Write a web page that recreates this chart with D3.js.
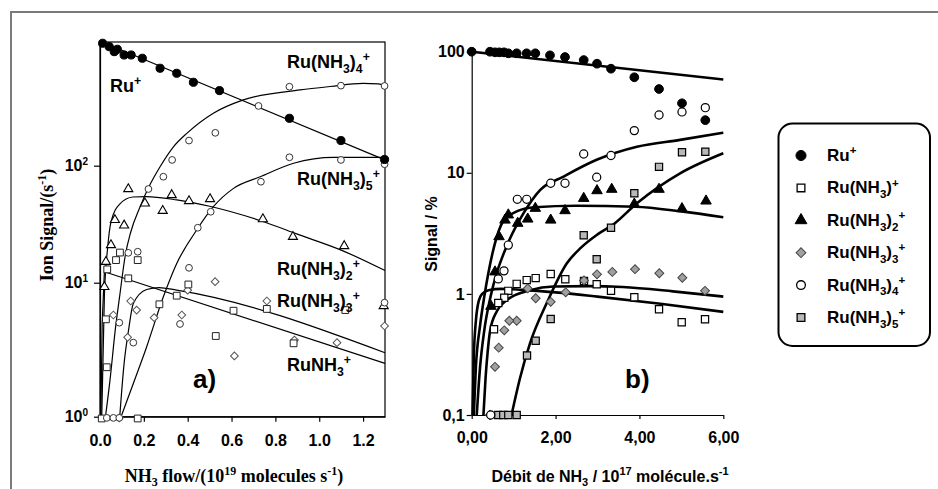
<!DOCTYPE html>
<html>
<head>
<meta charset="utf-8">
<script src="https://cdn.jsdelivr.net/npm/d3@7"></script>
<style>
  body { margin: 0; background: #fff; }
  svg { display: block; }
  .tk text { font-family: "Liberation Sans", Arial, sans-serif; font-weight: bold; font-size: 16px; fill: #000; }
  .tk path, .tk line { stroke: #000; stroke-width: 1.2; }
</style>
</head>
<body>
<div id="chart"></div>
<script>
// ---------- panel a) : ion signal (s-1) vs NH3 flow (1e19 molecules/s) ----------
const aRu  = [[0.012,1112],[0.042,1040],[0.065,943],[0.079,988],[0.11,883],[0.142,883],[0.193,828],[0.274,680],[0.35,616],[0.426,516],[0.545,438],[0.864,254],[1.099,164],[1.298,113]];
const aRu1 = [[0.031,2.34],[0.027,5.33],[0.033,13.0],[0.073,15.6],[0.091,18.1],[0.172,15.6],[0.129,10.9],[0.403,9.7],[0.35,8.0],[0.271,6.9],[0.609,6.18],[0.528,4.0],[0.761,6.37],[0.883,3.53],[1.119,6.25],[0.172,0.97],[0.008,0.97]];
const aRu2 = [[0.129,63.2],[0.205,47.7],[0.327,56.2],[0.286,41.2],[0.406,49.9],[0.502,51.9],[0.068,34.4],[0.11,30.9],[0.743,35],[0.88,24.7],[1.114,20.6],[0.05,21],[0.027,15.1],[0.02,9.3],[1.294,6.7]];
const aRu3 = [[0.525,10.2],[0.4,8.8],[0.14,7.3],[0.167,6.25],[0.061,5.74],[0.247,5.48],[0.373,5.74],[0.126,3.91],[0.613,2.84],[0.761,7.3],[0.887,3.73],[1.081,3.57],[1.298,4.75],[0.088,0.98]];
const aRu4 = [[1.298,480],[1.099,483],[0.864,473],[0.723,324],[0.526,191],[0.406,164],[0.329,112],[0.289,80.5],[0.221,63.2],[0.172,18.4],[0.129,18.0],[0.031,0.98],[0.061,0.98],[0.088,0.98]];
const aRu5 = [[1.298,103],[1.099,112],[0.864,118],[0.734,73],[0.505,40.4],[0.446,29.5],[0.406,13.4],[0.365,4.92],[0.152,3.57],[0.088,5.03],[1.298,7.1]];

// fitted curves
const aFitRu  = [[0.01,1140],[1.31,110]];
const aFitRu1 = [[0.004,1],[0.01,5],[0.02,12.4],[1.3,2.5]];
const aFitRu2 = [[0.008,1],[0.02,8],[0.035,20],[0.05,33],[0.09,47],[0.15,54],[0.21,54.5],[0.35,51],[0.5,45],[0.75,33],[0.9,26],[1.1,19],[1.3,12.7]];
const aFitRu3 = [[0.09,1],[0.11,2.5],[0.13,4.4],[0.152,7.0],[0.213,8.9],[0.27,9.2],[0.35,8.8],[1.3,3.0]];
const aFitRu4 = [[0.025,1],[0.046,1.9],[0.07,4.5],[0.09,8],[0.115,17],[0.14,27],[0.183,44.6],[0.23,70],[0.274,98],[0.335,145],[0.396,189],[0.517,281],[0.654,365],[0.913,444],[1.05,475],[1.2,505],[1.27,500],[1.3,480]];
const aFitRu5 = [[0.099,1.03],[0.152,1.77],[0.213,3.33],[0.289,7.85],[0.35,14.6],[0.441,28.2],[0.517,44.6],[0.609,64],[0.731,80.5],[0.883,105],[1.065,118],[1.3,118]];

const aXTicks = [0, 0.2, 0.4, 0.6, 0.8, 1.0, 1.2];
const aYTicks = [1, 10, 100];

// ---------- panel b) : signal (%) vs NH3 flow (1e17 molecule/s) ----------
const bRu  = [[0,100],[0.436,100],[0.556,98.8],[0.658,98.8],[0.77,98.8],[0.873,97],[1.073,97],[1.31,97],[1.517,97],[1.867,93.3],[2.225,90.4],[2.671,85.3],[2.988,79.6],[3.322,72.4],[3.878,61.5],[4.467,49.2],[5.015,37.5],[5.571,27.2]];
const bRu1 = [[5.564,0.617],[5.008,0.583],[4.467,0.746],[3.878,0.937],[3.322,1.06],[2.981,1.2],[2.678,1.28],[2.232,1.32],[1.884,1.46],[1.526,1.35],[1.312,1.3],[1.073,1.21],[0.873,1.06],[0.777,0.93],[0.634,0.84],[0.532,0.51]];
const bRu2 = [[5.588,5.85],[5.015,5.06],[4.467,7.31],[3.878,5.52],[3.339,7.31],[2.988,7.12],[2.671,6.15],[2.225,4.87],[1.884,4.07],[1.517,5.09],[1.336,4.15],[1.097,3.83],[0.873,4.49],[0.794,4.07],[0.651,2.97],[0.556,1.52],[0.46,0.79]];
const bRu3 = [[5.564,1.06],[5.023,1.36],[4.474,1.48],[3.895,1.6],[3.353,1.52],[2.988,1.45],[2.678,1.29],[2.242,1.03],[1.884,0.86],[1.526,0.92],[1.336,1.11],[1.073,0.6],[0.897,0.6],[0.777,0.5],[0.644,0.36],[0.556,0.25],[0.436,0.1]];
const bRu4 = [[5.571,34.5],[5.015,31.8],[4.467,30.0],[3.878,22.3],[3.322,13.9],[2.671,14.3],[2.981,9.2],[2.225,8.2],[1.884,8.2],[1.312,6.04],[1.088,6.04],[0.873,2.53],[0.77,1.55],[0.634,1.33],[0.453,0.1]];
const bRu5 = [[5.571,14.9],[5.015,14.8],[4.467,11.2],[3.878,6.77],[3.322,3.52],[2.671,3.05],[2.981,1.93],[1.884,0.62],[1.526,0.41],[1.319,0.31],[0.634,0.1],[0.753,0.1],[0.873,0.1],[1.073,0.1]];

const bFitRu  = [[0,100],[6,59]];
const bFitRu1 = [[0.02,0.1],[0.05,0.3],[0.1,0.6],[0.17,0.88],[0.25,1.0],[0.4,1.07],[0.7,1.1],[1.2,1.08],[2,1.03],[3,0.95],[4.5,0.83],[6,0.71]];
const bFitRu2 = [[0.05,0.1],[0.1,0.25],[0.2,0.55],[0.3,0.95],[0.4,1.5],[0.5,2.2],[0.6,2.97],[0.7,3.7],[0.85,4.3],[1.1,4.85],[1.5,5.2],[2.5,5.35],[3.9,5.25],[5,4.8],[6,4.3]];
const bFitRu3 = [[0.28,0.1],[0.33,0.2],[0.38,0.33],[0.44,0.5],[0.6,0.72],[0.84,0.89],[1.39,1.07],[1.95,1.15],[2.8,1.16],[3.6,1.14],[4.8,1.05],[6,0.95]];
const bFitRu4 = [[0.12,0.1],[0.2,0.25],[0.3,0.5],[0.45,0.95],[0.6,1.5],[0.75,2.1],[0.9,2.8],[1.23,4.6],[1.63,7.2],[2.19,9.3],[2.98,12.8],[3.94,16.4],[4.97,18.7],[6,21.4]];
const bFitRu5 = [[0.95,0.1],[1.15,0.2],[1.39,0.39],[1.79,0.84],[2.27,1.79],[2.6,2.4],[3.0,3.1],[3.4,3.8],[3.94,5.6],[4.97,9.9],[6,14.5]];

const bXTicks = [0, 2, 4, 6];
const bYTicks = [0.1, 1, 10, 100];

// ion names as text parts: plain string, ["x","sub"] or ["x","sup"]
const ionNames = [
  ["Ru", ["+","sup"]],
  ["Ru(NH", ["3","sub"], ")", ["+","sup"]],
  ["Ru(NH", ["3","sub"], ")", ["2","sub"], ["+","sup"]],
  ["Ru(NH", ["3","sub"], ")", ["3","sub"], ["+","sup"]],
  ["Ru(NH", ["3","sub"], ")", ["4","sub"], ["+","sup"]],
  ["Ru(NH", ["3","sub"], ")", ["5","sub"], ["+","sup"]]
];
const ruNH3Name = ["RuNH", ["3","sub"], ["+","sup"]];

// ---------- drawing ----------
const W = 938, H = 489;
const SANS = '"Liberation Sans", Arial, sans-serif';
const SERIF = '"Liberation Serif", "Times New Roman", serif';

const svg = d3.select("#chart").append("svg")
    .attr("width", W)
    .attr("height", H);

// outer grey frame (open at the bottom)
svg.append("path")
    .attr("d", `M11,${H + 5}V12H${W + 5}`)
    .attr("fill", "none")
    .attr("stroke", "#7a7a7a")
    .attr("stroke-width", 2);

// rich text helper for sub/superscripts
function richText(sel, parts, size) {
  const t = sel.append("text")
      .attr("font-family", SANS)
      .attr("font-weight", "bold")
      .attr("font-size", size + "px");
  let shift = 0;
  parts.forEach(p => {
    const txt = typeof p === "string" ? p : p[0];
    const kind = typeof p === "string" ? "" : p[1];
    const target = kind === "sub" ? 0.28 * size : kind === "sup" ? -0.4 * size : 0;
    const ts = t.append("tspan").attr("dy", target - shift).text(txt);
    if (kind) ts.attr("font-size", (size * 0.68) + "px");
    shift = target;
  });
  return t;
}

function marks(g, data, xs, ys, opt) {
  g.append("g").selectAll("path")
    .data(data)
    .join("path")
      .attr("d", d3.symbol().type(opt.type).size(opt.size))
      .attr("transform", d => `translate(${xs(d[0])},${ys(d[1])})${opt.rot ? " rotate(45)" : ""}`)
      .attr("fill", opt.fill)
      .attr("stroke", opt.stroke)
      .attr("stroke-width", opt.sw);
}

function curve(g, data, xs, ys, width, kind) {
  g.append("path")
    .datum(data)
    .attr("fill", "none")
    .attr("stroke", "#000")
    .attr("stroke-width", width)
    .attr("stroke-linejoin", "round")
    .attr("d", d3.line().x(d => xs(d[0])).y(d => ys(d[1])).curve(kind || d3.curveMonotoneX));
}

// ===== panel a =====
const ax = d3.scaleLinear().domain([0, 1.3]).range([100, 385]);
const ay = d3.scaleLog().domain([1, 10, 100, 1140]).range([416.7, 282.7, 165.7, 42]);

const ga = svg.append("g");

ga.append("rect")
    .attr("x", ax(0)).attr("y", ay(1140))
    .attr("width", ax(1.3) - ax(0)).attr("height", ay(1) - ay(1140))
    .attr("fill", "none").attr("stroke", "#000").attr("stroke-width", 1.2);

ga.append("g")
    .attr("class", "tk")
    .attr("transform", `translate(0,${ay(1)})`)
    .call(d3.axisBottom(ax).tickValues(aXTicks).tickSize(5).tickSizeOuter(0).tickPadding(13).tickFormat(d3.format(".1f")));

const aLeft = ga.append("g")
    .attr("class", "tk")
    .attr("transform", `translate(${ax(0)},0)`)
    .call(d3.axisLeft(ay).tickValues(aYTicks).tickSize(6).tickSizeOuter(0).tickPadding(6).tickFormat(""));
aLeft.selectAll(".tick text").each(function(d) {
  const t = d3.select(this).attr("font-size", "15px");
  t.append("tspan").text("10");
  t.append("tspan").attr("dy", -6).attr("font-size", "10px").text(Math.round(Math.log10(d)));
});

curve(ga, aFitRu, ax, ay, 1.2);
curve(ga, aFitRu1, ax, ay, 1.2, d3.curveLinear);
curve(ga, aFitRu2, ax, ay, 1.2);
curve(ga, aFitRu3, ax, ay, 1.2);
curve(ga, aFitRu4, ax, ay, 1.2);
curve(ga, aFitRu5, ax, ay, 1.2);

marks(ga, aRu3, ax, ay, { type: d3.symbolSquare, size: 30, fill: "#fff", stroke: "#555", sw: 1, rot: true });
marks(ga, aRu1, ax, ay, { type: d3.symbolSquare, size: 46, fill: "#fff", stroke: "#222", sw: 1 });
marks(ga, aRu2, ax, ay, { type: d3.symbolTriangle, size: 36, fill: "#fff", stroke: "#000", sw: 1.1 });
marks(ga, aRu4, ax, ay, { type: d3.symbolCircle, size: 36, fill: "#fff", stroke: "#333", sw: 1 });
marks(ga, aRu5, ax, ay, { type: d3.symbolCircle, size: 36, fill: "#fff", stroke: "#333", sw: 1 });
marks(ga, aRu, ax, ay, { type: d3.symbolCircle, size: 52, fill: "#000", stroke: "#000", sw: 1 });

richText(ga, ionNames[0], 18).attr("x", 110).attr("y", 92);
richText(ga, ionNames[4], 18).attr("x", 287).attr("y", 68);
richText(ga, ionNames[5], 18).attr("x", 297).attr("y", 185);
richText(ga, ionNames[2], 18).attr("x", 277).attr("y", 275);
richText(ga, ionNames[3], 18).attr("x", 277).attr("y", 307);
richText(ga, ruNH3Name, 18).attr("x", 287).attr("y", 371);

ga.append("text")
    .attr("x", 193).attr("y", 388)
    .attr("font-family", SANS).attr("font-weight", "bold").attr("font-size", "26px")
    .text("a)");

// axis titles (Times bold)
const aXT = ga.append("text")
    .attr("x", 234).attr("y", 482)
    .attr("text-anchor", "middle")
    .attr("font-family", SERIF).attr("font-weight", "bold").attr("font-size", "18px");
aXT.append("tspan").text("NH");
aXT.append("tspan").attr("dy", 4).attr("font-size", "12px").text("3");
aXT.append("tspan").attr("dy", -4).text(" flow/(10");
aXT.append("tspan").attr("dy", -7).attr("font-size", "12px").text("19");
aXT.append("tspan").attr("dy", 7).text(" molecules s");
aXT.append("tspan").attr("dy", -7).attr("font-size", "12px").text("-1");
aXT.append("tspan").attr("dy", 7).text(")");

const aYT = ga.append("text")
    .attr("transform", "translate(53,225) rotate(-90)")
    .attr("text-anchor", "middle")
    .attr("font-family", SERIF).attr("font-weight", "bold").attr("font-size", "18px");
aYT.append("tspan").text("Ion Signal/(s");
aYT.append("tspan").attr("dy", -7).attr("font-size", "12px").text("-1");
aYT.append("tspan").attr("dy", 7).text(")");

// ===== panel b =====
const bx = d3.scaleLinear().domain([0, 6]).range([471.7, 723.3]);
const by = d3.scaleLog().domain([0.1, 100]).range([415, 51.7]);

const gb = svg.append("g");

gb.append("g")
    .attr("class", "tk")
    .attr("transform", `translate(0,${by(0.1)})`)
    .call(d3.axisBottom(bx).tickValues(bXTicks).tickSize(4).tickSizeOuter(0).tickPadding(13)
      .tickFormat(d => d3.format(".2f")(d).replace(".", ",")));

gb.append("g")
    .attr("class", "tk")
    .attr("transform", `translate(${bx(0)},0)`)
    .call(d3.axisLeft(by).tickValues(bYTicks).tickSize(5).tickSizeOuter(0).tickPadding(2)
      .tickFormat(d => String(d).replace(".", ",")));

curve(gb, bFitRu, bx, by, 2.6);
curve(gb, bFitRu1, bx, by, 2.6);
curve(gb, bFitRu2, bx, by, 2.6);
curve(gb, bFitRu3, bx, by, 2.6);
curve(gb, bFitRu4, bx, by, 2.6);
curve(gb, bFitRu5, bx, by, 2.6);

const bStyles = [
  { type: d3.symbolCircle, size: 60, fill: "#000", stroke: "#000", sw: 1 },
  { type: d3.symbolSquare, size: 52, fill: "#fff", stroke: "#000", sw: 1.2 },
  { type: d3.symbolTriangle, size: 48, fill: "#000", stroke: "#000", sw: 1 },
  { type: d3.symbolSquare, size: 40, fill: "#a0a0a0", stroke: "#444", sw: 1, rot: true },
  { type: d3.symbolCircle, size: 52, fill: "#fff", stroke: "#000", sw: 1.2 },
  { type: d3.symbolSquare, size: 52, fill: "#b8b8b8", stroke: "#000", sw: 1.2 }
];
const bSeries = [bRu, bRu1, bRu2, bRu3, bRu4, bRu5];
[5, 1, 3, 2, 4, 0].forEach(i => marks(gb, bSeries[i], bx, by, bStyles[i]));

gb.append("text")
    .attr("x", 625).attr("y", 388)
    .attr("font-family", SANS).attr("font-weight", "bold").attr("font-size", "26px")
    .text("b)");

const bXT = gb.append("text")
    .attr("x", 610).attr("y", 482)
    .attr("text-anchor", "middle")
    .attr("font-family", SANS).attr("font-weight", "bold").attr("font-size", "16px");
bXT.append("tspan").text("Débit de NH");
bXT.append("tspan").attr("dy", 4).attr("font-size", "11px").text("3");
bXT.append("tspan").attr("dy", -4).text(" / 10");
bXT.append("tspan").attr("dy", -7).attr("font-size", "11px").text("17");
bXT.append("tspan").attr("dy", 7).text(" molécule.s");
bXT.append("tspan").attr("dy", -7).attr("font-size", "11px").text("-1");

gb.append("text")
    .attr("transform", "translate(437,234) rotate(-90)")
    .attr("text-anchor", "middle")
    .attr("font-family", SANS).attr("font-weight", "bold").attr("font-size", "16px")
    .text("Signal / %");

// ===== legend =====
const lg = svg.append("g");
lg.append("rect")
    .attr("x", 778.5).attr("y", 123.5)
    .attr("width", 151.5).attr("height", 222.5)
    .attr("rx", 14)
    .attr("fill", "#fff").attr("stroke", "#000").attr("stroke-width", 2);

const legendStyles = [
  { type: d3.symbolCircle, size: 80, fill: "#000", stroke: "#000", sw: 1 },
  { type: d3.symbolSquare, size: 60, fill: "#fff", stroke: "#000", sw: 1.3 },
  { type: d3.symbolTriangle, size: 60, fill: "#000", stroke: "#000", sw: 1 },
  { type: d3.symbolSquare, size: 48, fill: "#a0a0a0", stroke: "#444", sw: 1, rot: true },
  { type: d3.symbolCircle, size: 60, fill: "#fff", stroke: "#000", sw: 1.3 },
  { type: d3.symbolSquare, size: 60, fill: "#b8b8b8", stroke: "#000", sw: 1.3 }
];
ionNames.forEach((name, i) => {
  const yb = 161 + i * 32.4;
  const s = legendStyles[i];
  lg.append("path")
      .attr("d", d3.symbol().type(s.type).size(s.size))
      .attr("transform", `translate(801,${yb - 5.5})${s.rot ? " rotate(45)" : ""}`)
      .attr("fill", s.fill).attr("stroke", s.stroke).attr("stroke-width", s.sw);
  richText(lg, name, 17).attr("x", 827).attr("y", yb);
});
</script>
</body>
</html>
